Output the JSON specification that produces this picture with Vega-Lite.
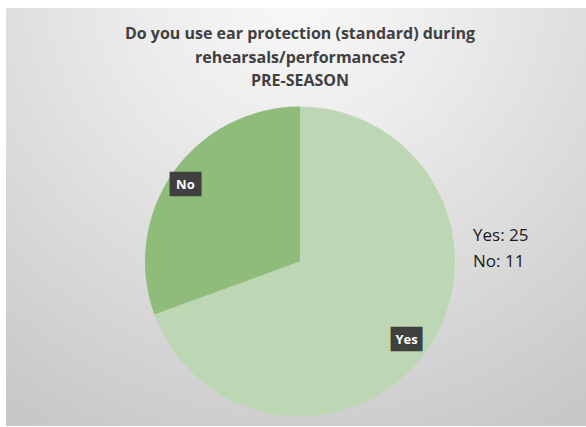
{
  "$schema": "https://vega.github.io/schema/vega-lite/v6.json",
  "width": 586,
  "height": 427,
  "autosize": {"type": "fit", "contains": "padding"},
  "padding": {"left": 6, "top": 8, "right": 0, "bottom": 1},
  "background": "white",
  "title": {
    "text": ["Do you use ear protection (standard) during", "rehearsals/performances?", "PRE-SEASON"],
    "font": "Open Sans",
    "fontSize": 16,
    "fontWeight": "bold",
    "color": "#404040",
    "lineHeight": 23.5,
    "anchor": "middle",
    "offset": -81,
    "dx": 4
  },
  "datasets": {
    "answers": [
      {"answer": "Yes", "count": 25, "summary": "Yes: 25", "box": "██"},
      {"answer": "No", "count": 11, "summary": "No: 11", "box": "██"}
    ]
  },
  "layer": [
    {
      "data": {"values": [{}]},
      "mark": {
        "type": "rect",
        "fill": {
          "gradient": "radial",
          "x1": 0.5, "y1": 0.1, "r1": 0,
          "x2": 0.5, "y2": 0.1, "r2": 0.9,
          "stops": [
            {"offset": 0, "color": "#f9f9f9"},
            {"offset": 0.3, "color": "#ececec"},
            {"offset": 1, "color": "#c6c6c6"}
          ]
        }
      },
      "encoding": {}
    },
    {
      "data": {"name": "answers"},
      "encoding": {
        "theta": {"field": "count", "type": "quantitative", "stack": true},
        "order": {"field": "count", "type": "quantitative", "sort": "descending"}
      },
      "layer": [
        {
          "mark": {"type": "arc", "outerRadius": 155, "xOffset": 4, "yOffset": 44.5},
          "encoding": {
            "color": {
              "field": "summary",
              "type": "nominal",
              "scale": {"domain": ["Yes: 25", "No: 11"], "range": ["#bdd7b4", "#8fbb7b"]},
              "legend": {
                "title": null,
                "orient": "none",
                "legendX": 450,
                "legendY": 219,
                "symbolSize": 0,
                "symbolOpacity": 0,
                "symbolStrokeWidth": 0,
                "labelOffset": 0,
                "labelFont": "Open Sans",
                "labelFontSize": 17,
                "labelColor": "#1a1a1a",
                "rowPadding": 8,
                "labelLimit": 200
              }
            }
          }
        },
        {
          "mark": {"type": "text", "radius": 135, "xOffset": 0, "yOffset": 45.5, "font": "DejaVu Sans", "fontSize": 20.5, "fill": "#404040", "baseline": "middle", "align": "center"},
          "encoding": {"text": {"field": "box"}}
        },
        {
          "mark": {"type": "text", "radius": 135, "xOffset": 0, "yOffset": 45.5, "font": "Open Sans", "fontSize": 13, "fontWeight": "bold", "fill": "white", "baseline": "middle", "align": "center"},
          "encoding": {"text": {"field": "answer"}}
        }
      ]
    }
  ],
  "config": {"view": {"stroke": null}}
}
